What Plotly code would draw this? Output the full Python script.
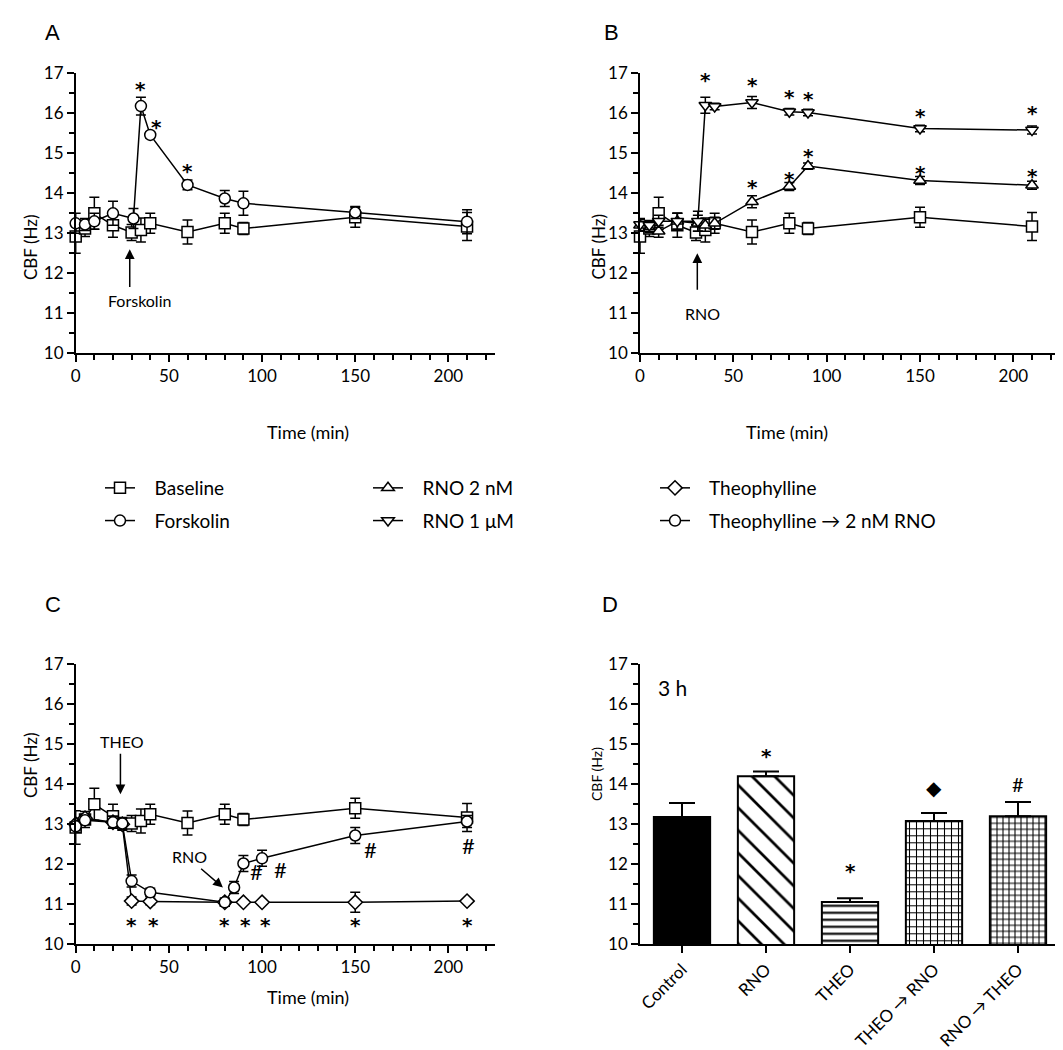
import plotly.graph_objects as go

OFF = 8                      # page body margin of the html page
W, H = 1063 - OFF, 1050 - OFF
FONT = "Lato"
STARFONT = "DejaVu Sans"

# ---------------- data ----------------
base_t = [0, 5, 10, 20, 30, 35, 40, 60, 80, 90, 150, 210]
base_y = [12.92, 13.12, 13.5, 13.2, 13.02, 13.08, 13.25, 13.03, 13.25, 13.12, 13.4, 13.17]
base_e = [0.42, 0.2, 0.4, 0.3, 0.2, 0.3, 0.25, 0.3, 0.25, 0.15, 0.25, 0.35]

fsk_t = [0, 5, 10, 20, 31, 35, 40, 60, 80, 90, 150, 210]
fsk_y = [13.25, 13.22, 13.3, 13.5, 13.37, 16.18, 15.46, 14.21, 13.87, 13.75, 13.52, 13.29]
fsk_e = [0.25, 0.15, 0.2, 0.3, 0.25, 0.22, 0.08, 0.12, 0.2, 0.3, 0.15, 0.3]

rno2_t = [0, 5, 10, 20, 31, 35, 40, 60, 80, 90, 150, 210]
rno2_y = [13.2, 13.12, 13.05, 13.3, 13.25, 13.2, 13.25, 13.79, 14.17, 14.68, 14.32, 14.2]
rno2_e = [0.15, 0.1, 0.15, 0.2, 0.2, 0.15, 0.15, 0.15, 0.1, 0.08, 0.1, 0.1]

rno1_t = [0, 5, 10, 20, 31, 35, 40, 60, 80, 90, 150, 210]
rno1_y = [13.22, 13.2, 13.3, 13.3, 13.3, 16.2, 16.17, 16.27, 16.04, 16.02, 15.62, 15.58]
rno1_e = [0.15, 0.1, 0.15, 0.2, 0.25, 0.2, 0.08, 0.15, 0.08, 0.08, 0.08, 0.1]

theo_t = [0, 5, 20, 25, 30, 40, 80, 90, 100, 150, 210]
theo_y = [13.0, 13.15, 13.05, 13.0, 11.08, 11.07, 11.05, 11.05, 11.05, 11.05, 11.08]
theo_e = [0.15, 0.1, 0.15, 0.15, 0.1, 0.08, 0.1, 0.05, 0.05, 0.25, 0.05]

theorno_t = [0, 5, 20, 25, 30, 40, 80, 85, 90, 100, 150, 210]
theorno_y = [12.95, 13.1, 13.05, 13.02, 11.58, 11.3, 11.05, 11.42, 12.02, 12.15, 12.72, 13.07]
theorno_e = [0.15, 0.1, 0.15, 0.15, 0.15, 0.1, 0.1, 0.15, 0.2, 0.2, 0.2, 0.15]

bar_cats = ["Control", "RNO", "THEO", "THEO \u2192 RNO", "RNO \u2192 THEO"]
bar_vals = [13.18, 14.2, 11.06, 13.08, 13.2]
bar_err = [0.35, 0.12, 0.09, 0.2, 0.36]

# significance marks (time, CBF)
a_star_t = [35, 43.4, 60]
a_star_y = [16.7, 15.77, 14.67]
b_star_t = [35, 60, 80, 90, 150, 210, 60, 80, 90, 150, 210]
b_star_y = [16.93, 16.82, 16.52, 16.45, 16.04, 16.1, 14.25, 14.47, 15.04, 14.62, 14.53]
c_star_t = [30, 42, 80, 91, 102, 150, 210]
c_star_y = [10.58] * 7
c_hash_t = [97, 110, 158, 211]
c_hash_y = [11.82, 11.86, 12.36, 12.48]
d_marks = ["", "*", "*", "\u25C6", "#"]
d_mark_y = [0, 14.82, 11.94, 13.94, 14.0]

# ---------------- layout helpers (reference-screen pixels -> paper) ----------------
def fx(p):
    return (p - OFF) / W

def fy(p):
    return 1 - (p - OFF) / H

def px_x(a, b):
    return [fx(a), fx(b)]

def px_y(top, bottom):
    return [fy(bottom), fy(top)]

tickfont = dict(family=FONT, size=17, color="black")

def time_axis(dom, anchor):
    return dict(domain=dom, anchor=anchor, range=[0, 225], tickvals=[0, 50, 100, 150, 200],
                ticks="outside", ticklen=7, tickwidth=1.5, tickcolor="black", automargin=False,
                showline=True, linecolor="black", linewidth=1.5, showgrid=False, zeroline=False,
                tickfont=tickfont,
                minor=dict(ticks="outside", dtick=10, ticklen=5, tickwidth=1.5, tickcolor="black", showgrid=False))

def cbf_axis(dom, anchor):
    return dict(domain=dom, anchor=anchor, range=[10, 17], dtick=1, automargin=False,
                ticks="outside", ticklen=7, tickwidth=1.5, tickcolor="black",
                showline=True, linecolor="black", linewidth=1.5, showgrid=False, zeroline=False,
                tickfont=tickfont,
                minor=dict(ticks="outside", dtick=0.5, ticklen=5, tickwidth=1.5, tickcolor="black", showgrid=False))

fig = go.Figure()

def series(t, y, e, sym, name, xa, ya, legend, show):
    fig.add_trace(go.Scatter(
        x=t, y=y, mode="lines+markers", name="\u00a0\u00a0\u00a0" + name, xaxis=xa, yaxis=ya,
        line=dict(color="black", width=1.5),
        marker=dict(symbol=sym, size=11, color="white", line=dict(color="black", width=1.5)),
        error_y=dict(type="data", array=e, color="black", thickness=1.5, width=5),
        cliponaxis=False, showlegend=show, legend=legend, legendgroup=name))

# Panel A
series(base_t, base_y, base_e, "square", "Baseline", "x", "y", "legend", True)
series(fsk_t, fsk_y, fsk_e, "circle", "Forskolin", "x", "y", "legend", True)
# Panel B
series(base_t, base_y, base_e, "square", "Baseline", "x2", "y2", "legend", False)
series(rno2_t, rno2_y, rno2_e, "triangle-up", "RNO 2 nM", "x2", "y2", "legend2", True)
series(rno1_t, rno1_y, rno1_e, "triangle-down", "RNO 1 \u03bcM", "x2", "y2", "legend2", True)
# Panel C
series(base_t, base_y, base_e, "square", "Baseline", "x3", "y3", "legend", False)
series(theo_t, theo_y, theo_e, "diamond", "Theophylline", "x3", "y3", "legend3", True)
series(theorno_t, theorno_y, theorno_e, "circle", "Theophylline \u2192 2 nM RNO", "x3", "y3", "legend3", True)

# Panel D
patterns = [None,
            dict(shape="\\", size=16, solidity=0.17),
            dict(shape="-", size=7, solidity=0.3),
            dict(shape="+", size=7, solidity=0.28),
            dict(shape="+", size=6, solidity=0.32)]
fills = ["black", "white", "white", "white", "white"]
for i, c in enumerate(bar_cats):
    mk = dict(color=fills[i], line=dict(color="black", width=2))
    if patterns[i]:
        mk["pattern"] = dict(fgcolor="black", bgcolor="white", fgopacity=1, **patterns[i])
    fig.add_trace(go.Bar(
        x=[i], y=[bar_vals[i]], xaxis="x4", yaxis="y4", width=0.67, showlegend=False,
        marker=mk,
        error_y=dict(type="data", symmetric=False, array=[bar_err[i]], arrayminus=[0],
                     color="black", thickness=2, width=13)))

ann = []
def star(x, y, xa, ya, text="<b>*</b>", size=20, shift=-4, family=STARFONT):
    ann.append(dict(x=x, y=y, xref=xa, yref=ya, text=text, showarrow=False, yshift=shift,
                    font=dict(family=family, size=size, color="black")))

for t, v in zip(a_star_t, a_star_y):
    star(t, v, "x", "y")
for t, v in zip(b_star_t, b_star_y):
    star(t, v, "x2", "y2")
for t, v in zip(c_star_t, c_star_y):
    star(t, v, "x3", "y3")
for t, v in zip(c_hash_t, c_hash_y):
    star(t, v, "x3", "y3", "#", 22, 0, FONT)
for i, (m, v) in enumerate(zip(d_marks, d_mark_y)):
    if m == "*":
        star(i, v, "x4", "y4")
    elif m:
        star(i, v, "x4", "y4", m, 20, 0, FONT)

def arrow(x, y, ax_, ay_, xa, ya):
    ann.append(dict(x=x, y=y, ax=ax_, ay=ay_, xref=xa, yref=ya, axref=xa, ayref=ya, text="",
                    showarrow=True, arrowhead=2, arrowsize=1.3, arrowwidth=1.5, arrowcolor="black"))

def label(x, y, xa, ya, text, size=16):
    ann.append(dict(x=x, y=y, xref=xa, yref=ya, text=text, showarrow=False,
                    font=dict(family=FONT, size=size, color="black")))

arrow(29, 12.6, 29, 11.62, "x", "y")
label(34.5, 11.33, "x", "y", "Forskolin")
arrow(30.7, 12.5, 30.7, 11.55, "x2", "y2")
label(33.6, 11.0, "x2", "y2", "RNO")
arrow(24, 13.75, 24, 14.8, "x3", "y3")
label(25, 15.07, "x3", "y3", "THEO")
arrow(79, 11.42, 66.5, 11.92, "x3", "y3")
label(61, 12.2, "x3", "y3", "RNO")

# axis titles and panel letters (paper coords)
def ptext(xp, yp, text, size, angle=0, family=FONT):
    ann.append(dict(x=fx(xp), y=fy(yp), xref="paper", yref="paper", text=text, showarrow=False,
                    textangle=angle, font=dict(family=family, size=size, color="black")))

ptext(265, 432, "Time (min)", 18)
ptext(830, 432, "Time (min)", 18)
ptext(265, 1010, "Time (min)", 18)
ptext(18, 213, "CBF (Hz)", 17, -90)
ptext(598, 213, "CBF (Hz)", 17, -90)
ptext(18, 800, "CBF (Hz)", 17, -90)
ptext(596, 803, "CBF (Hz)", 14, -90)
ptext(672, 687, "3 h", 21)
for xp, yp, L in [(43, 18, "A"), (611, 18, "B"), (43, 604, "C"), (610, 604, "D")]:
    ptext(xp, yp, L, 22, 0, "Liberation Sans")

legfont = dict(family=FONT, size=19, color="black")
leg_common = dict(xanchor="left", yanchor="top", y=fy(469), font=legfont, tracegroupgap=5,
                  itemwidth=30, bgcolor="rgba(0,0,0,0)", borderwidth=0)

fig.update_layout(
    width=W, height=H, margin=dict(l=0, r=0, t=0, b=0, autoexpand=False),
    paper_bgcolor="white", plot_bgcolor="white",
    font=dict(family=FONT, color="black"),
    xaxis=time_axis(px_x(75.7, 495), "y"), yaxis=cbf_axis(px_y(73.3, 353.3), "x"),
    xaxis2=time_axis(px_x(640, 1060), "y2"), yaxis2=cbf_axis(px_y(73.3, 353.3), "x2"),
    xaxis3=time_axis(px_x(75.7, 495), "y3"), yaxis3=cbf_axis(px_y(664.3, 944.3), "x3"),
    xaxis4=dict(domain=px_x(640, 1060), anchor="y4", range=[-0.5, 4.5], tickvals=list(range(5)),
                ticktext=bar_cats, tickangle=-45, ticks="outside", ticklen=7, tickwidth=1.5,
                tickcolor="black", showline=True, linecolor="black", linewidth=1.5, showgrid=False,
                zeroline=False, automargin=False, tickfont=dict(family=FONT, size=17, color="black")),
    yaxis4=cbf_axis(px_y(664.3, 944.3), "x4"),
    legend=dict(x=fx(100), **leg_common),
    legend2=dict(x=fx(368), **leg_common),
    legend3=dict(x=fx(655), **leg_common),
    annotations=ann,
    barmode="overlay",
)

fig.write_html("out.html")
